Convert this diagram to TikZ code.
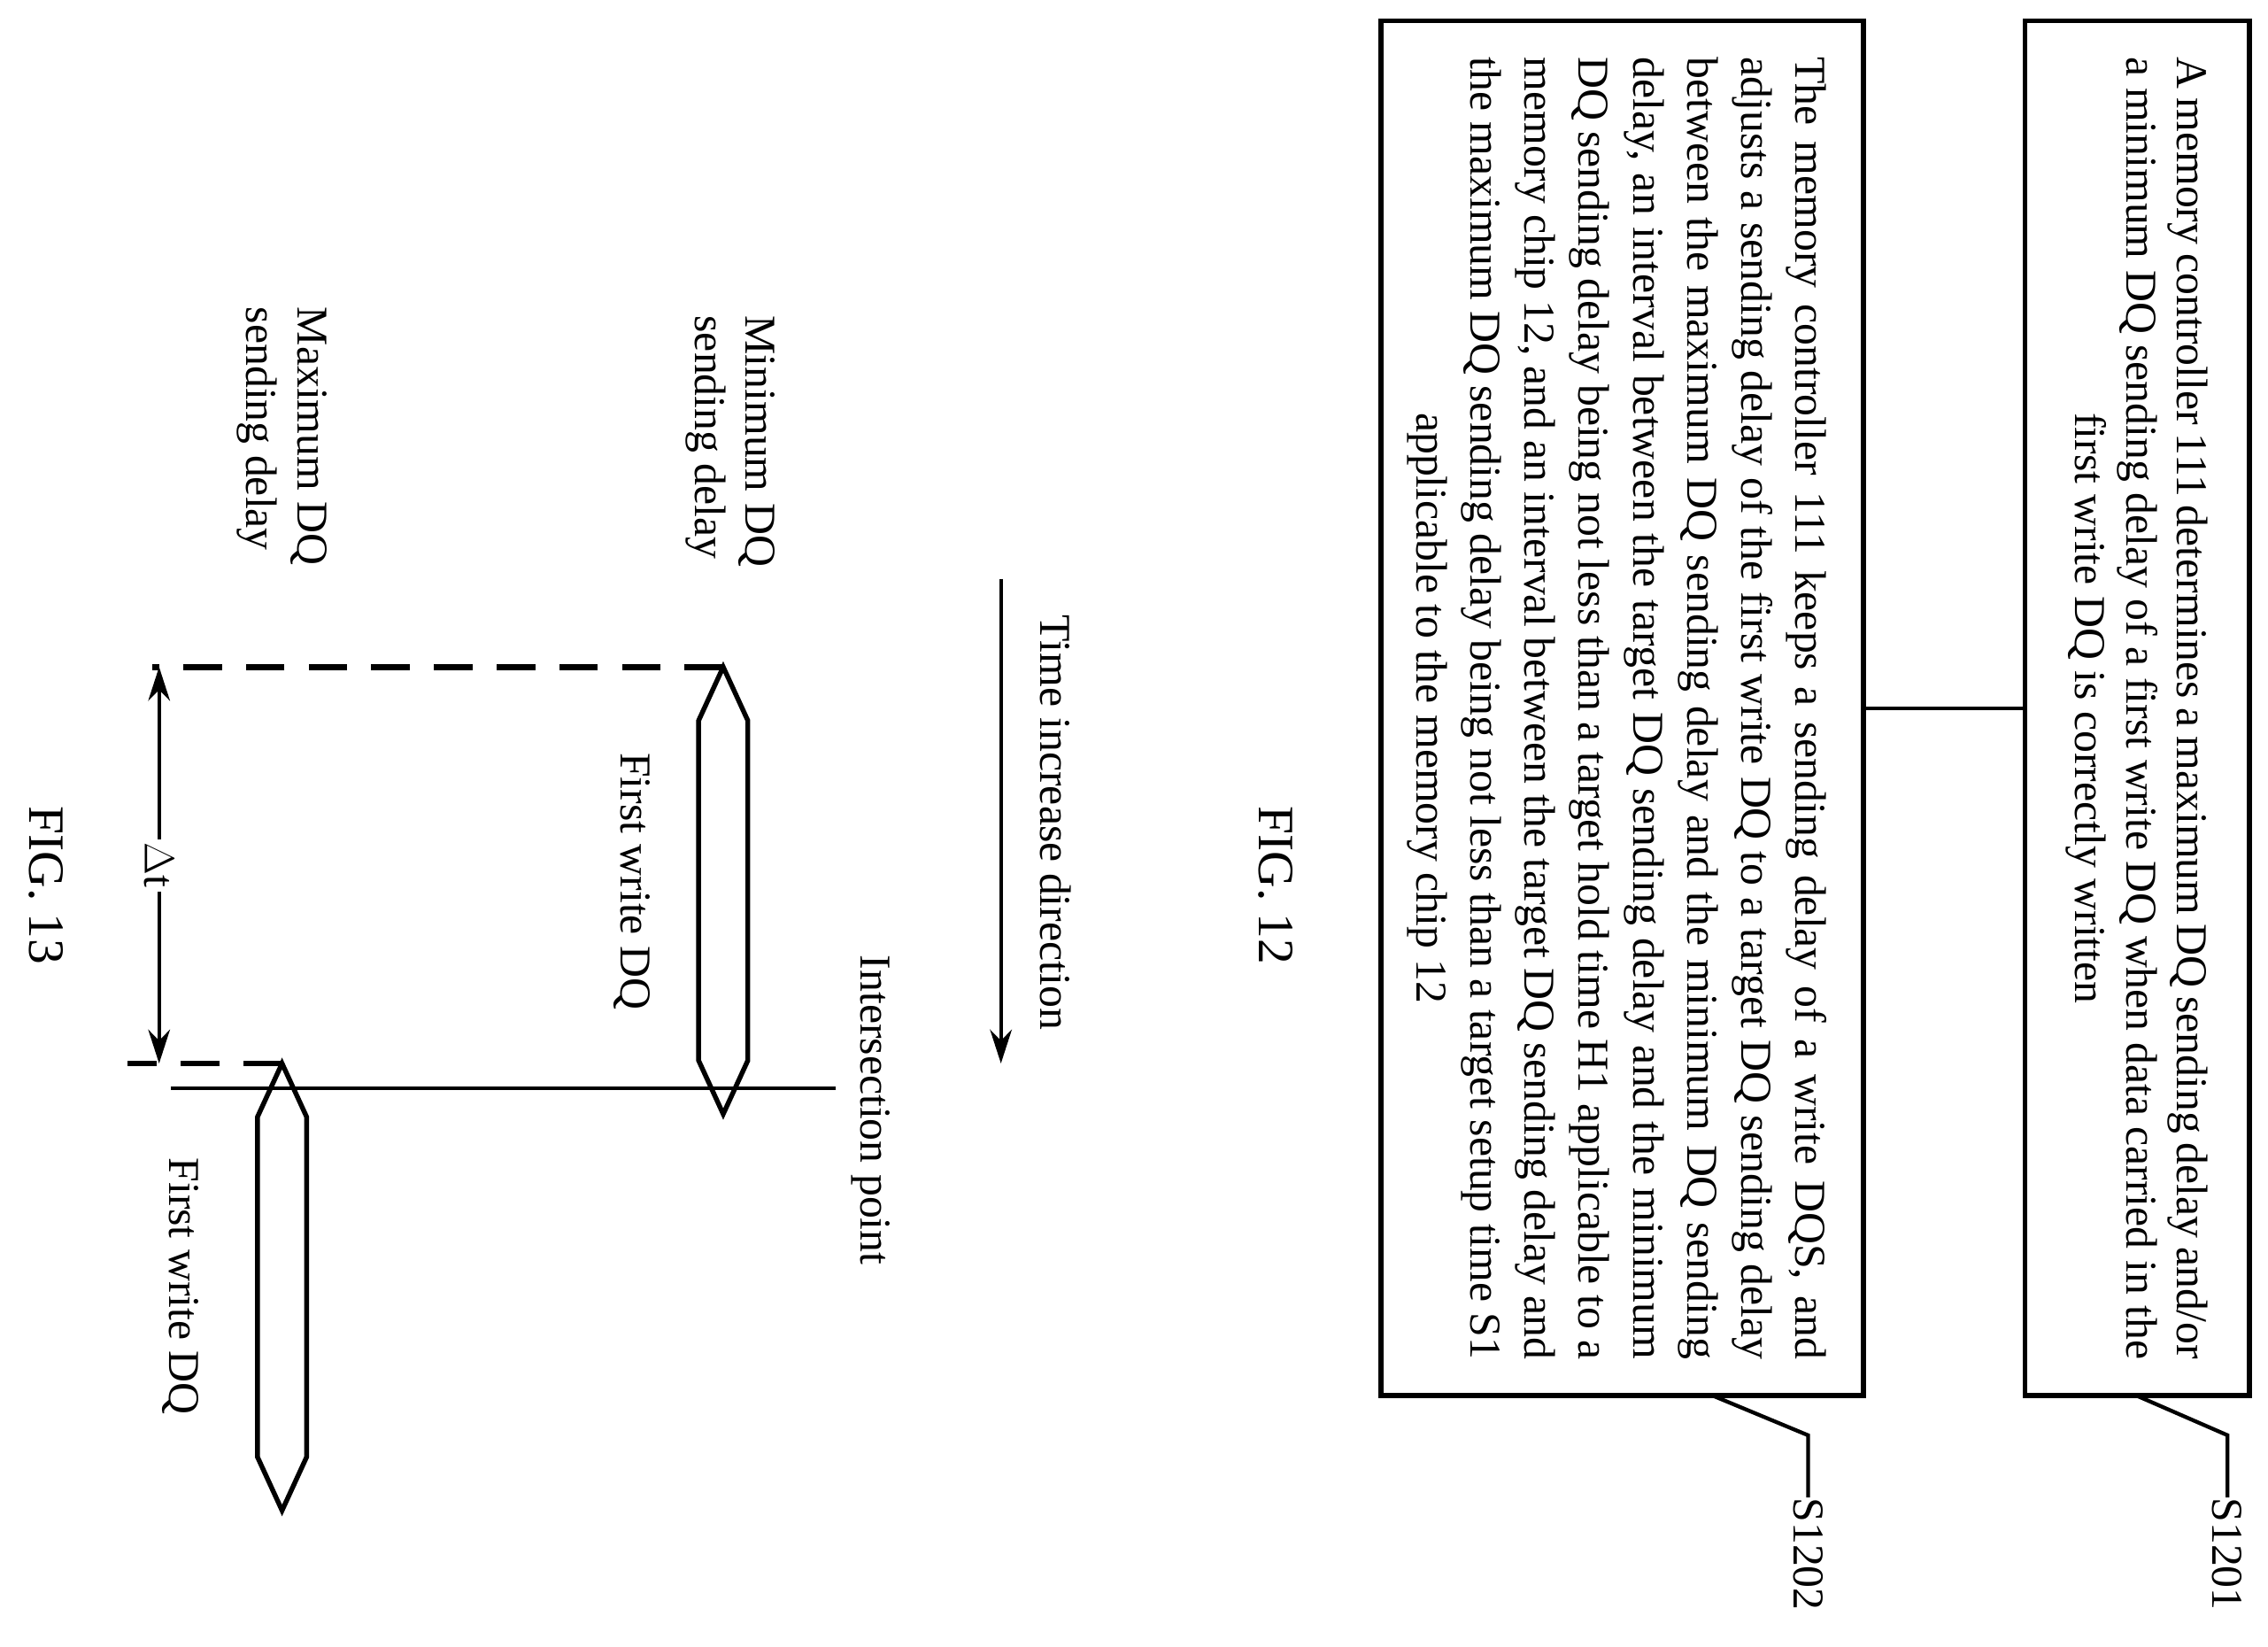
\documentclass[tikz,border=0pt]{standalone}
\usepackage{fontspec}
\setmainfont{Liberation Serif}
\usetikzlibrary{arrows.meta}
\begin{document}
\begin{tikzpicture}[x=0.3mm,y=-0.3mm,
  txt/.style={rotate=-90,font=\fontsize{26}{30}\selectfont,inner sep=0pt},
  box/.style={draw,line width=1mm,rotate=-90,inner sep=0pt,font=\fontsize{26}{30}\selectfont},
  ln/.style={line width=0.8mm},
  dsh/.style={line width=1.2mm,dash pattern=on 8mm off 5mm},
  hex/.style={line width=1mm,line join=miter}]
\useasboundingbox (0,0) rectangle (1568,1138);
% FIG 12
\node[box,minimum width=285mm,minimum height=46.5mm] (b1) at (1477.5,489.5) {};
\node[txt,text width=270mm,align=justify] (t1) at (1477.5,489.5) {A memory controller 111 determines a maximum DQ sending delay and/or\linebreak a minimum DQ sending delay of a first write DQ when data carried in the\par\centering first write DQ is correctly written\par};
\node[box,minimum width=285mm,minimum height=100mm] (b2) at (1121.5,489.5) {};
\node[txt,text width=270mm,align=justify,font=\fontsize{26}{32}\selectfont] (t2) at (1118,489.5) {The memory controller 111 keeps a sending delay of a write DQS, and\linebreak adjusts a sending delay of the first write DQ to a target DQ sending delay\linebreak between the maximum DQ sending delay and the minimum DQ sending\linebreak delay, an interval between the target DQ sending delay and the minimum\linebreak DQ sending delay being not less than a target hold time H1 applicable to a\linebreak memory chip 12, and an interval between the target DQ sending delay and\linebreak the maximum DQ sending delay being not less than a target setup time S1\par\centering applicable to the memory chip 12\par};
\draw[ln] (b2.north) -- (b1.south);
\node[txt,anchor=west] (s1) at (1540,1035) {S1201};
\node[txt,anchor=west] (s2) at (1250,1035) {S1202};
\coordinate (l1) at (1478,965); \coordinate (l2) at (1185,965);
\draw[ln] (l1) -- (1540,992) -- (s1.west);
\draw[ln] (l2) -- (1250,992) -- (s2.west);
\node[txt,font=\fontsize{30}{34}\selectfont] (f12) at (882,612) {FIG. 12};
% FIG 13
\node[txt,font=\fontsize{30}{34}\selectfont] (f13) at (32,612) {FIG. 13};
\coordinate (ta) at (692,400); \coordinate (tb) at (692,735);
\draw[ln,-{Stealth[length=7mm,width=4.5mm]}] (ta) -- (tb);
\node[txt,anchor=west] (tid) at (730,425) {Time increase direction};
\node[txt,anchor=west] (ip) at (602,660) {Intersection point};
\coordinate (h1) at (118,752); \coordinate (h2) at (578,752);
\draw[ln] (h1) -- (h2);
\draw[hex] (500,461) -- (517,498) -- (517,733) -- (500,770) -- (483,733) -- (483,498) -- cycle;
\draw[hex] (195,735) -- (212,772) -- (212,1007) -- (195,1044) -- (178,1007) -- (178,772) -- cycle;
\draw[dsh] (500,461) -- (105,461);
\draw[dsh] (195,735) -- (88,735);
\node[txt,fill=white,inner sep=2pt] (dt) at (110,598) {$\Delta$t};
\coordinate (d1) at (110,461); \coordinate (d2) at (110,735);
\draw[ln,-{Stealth[length=7mm,width=4.5mm]}] (dt.west) -- (d1);
\draw[ln,-{Stealth[length=7mm,width=4.5mm]}] (dt.east) -- (d2);
\node[txt,anchor=west,align=left] (mn) at (505,218) {Minimum DQ\\sending delay};
\node[txt,anchor=west,align=left] (mx) at (195,212) {Maximum DQ\\sending delay};
\node[txt,anchor=west] (fw1) at (437,520) {First write DQ};
\node[txt,anchor=west] (fw2) at (125,800) {First write DQ};
\end{tikzpicture}
\end{document}
